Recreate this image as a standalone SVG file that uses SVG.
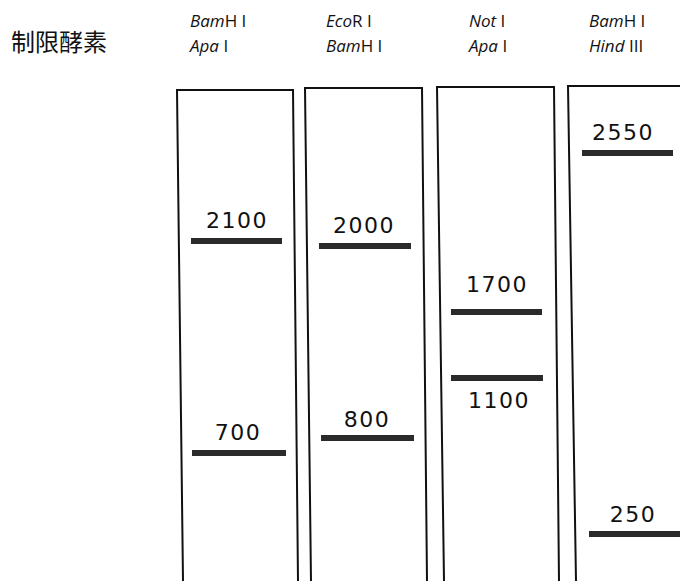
<svg xmlns="http://www.w3.org/2000/svg" width="680" height="581" viewBox="0 0 680 581">
<style>
.hdr{font-family:"Open Sans","Noto Sans",sans-serif;font-size:17px;fill:#111}
.it{font-style:italic}
.cjk{font-family:"Noto Sans CJK JP","Noto Sans CJK SC",sans-serif;font-size:24px;fill:#111}
.num{font-family:"DejaVu Sans","Liberation Sans",sans-serif;font-size:22px;fill:#111;letter-spacing:1.5px;text-anchor:middle}
.lane{fill:none;stroke:#111;stroke-width:2}
.band{fill:#2b2b2b}
</style>
<rect width="680" height="581" fill="#fff"/>
<g id="header">
<text class="cjk" x="11" y="51">制限酵素</text>
<text class="hdr" x="190" y="27"><tspan class="it">Bam</tspan>H I</text>
<text class="hdr" x="190" y="52"><tspan class="it">Apa</tspan> I</text>
<text class="hdr" x="326" y="27"><tspan class="it">Eco</tspan>R I</text>
<text class="hdr" x="326" y="52"><tspan class="it">Bam</tspan>H I</text>
<text class="hdr" x="469" y="27"><tspan class="it">Not</tspan> I</text>
<text class="hdr" x="469" y="52"><tspan class="it">Apa</tspan> I</text>
<text class="hdr" x="589" y="27"><tspan class="it">Bam</tspan>H I</text>
<text class="hdr" x="589" y="52"><tspan class="it">Hind</tspan> III</text>
</g>
<g id="lane1">
<path class="lane" d="M183,581 L177,90 L293,90 L298,581"/>
<rect class="band" x="191" y="238" width="91" height="6"/>
<text class="num" x="237" y="228">2100</text>
<rect class="band" x="192" y="450" width="94" height="6"/>
<text class="num" x="238" y="440">700</text>
</g>
<g id="lane2">
<path class="lane" d="M311,581 L305,88 L422,88 L427,581"/>
<rect class="band" x="319" y="243" width="92" height="6"/>
<text class="num" x="364" y="233">2000</text>
<rect class="band" x="321" y="435" width="93" height="6"/>
<text class="num" x="367" y="427">800</text>
</g>
<g id="lane3">
<path class="lane" d="M444,581 L437,87 L554,87 L559,581"/>
<rect class="band" x="451" y="309" width="91" height="6"/>
<text class="num" x="497" y="292">1700</text>
<rect class="band" x="451" y="375" width="92" height="6"/>
<text class="num" x="499" y="408">1100</text>
</g>
<g id="lane4">
<path class="lane" d="M576,581 L568,86 L680,86"/>
<rect class="band" x="582" y="150" width="91" height="6"/>
<text class="num" x="623" y="140">2550</text>
<rect class="band" x="589" y="531" width="91" height="6"/>
<text class="num" x="633" y="522">250</text>
</g>
</svg>
